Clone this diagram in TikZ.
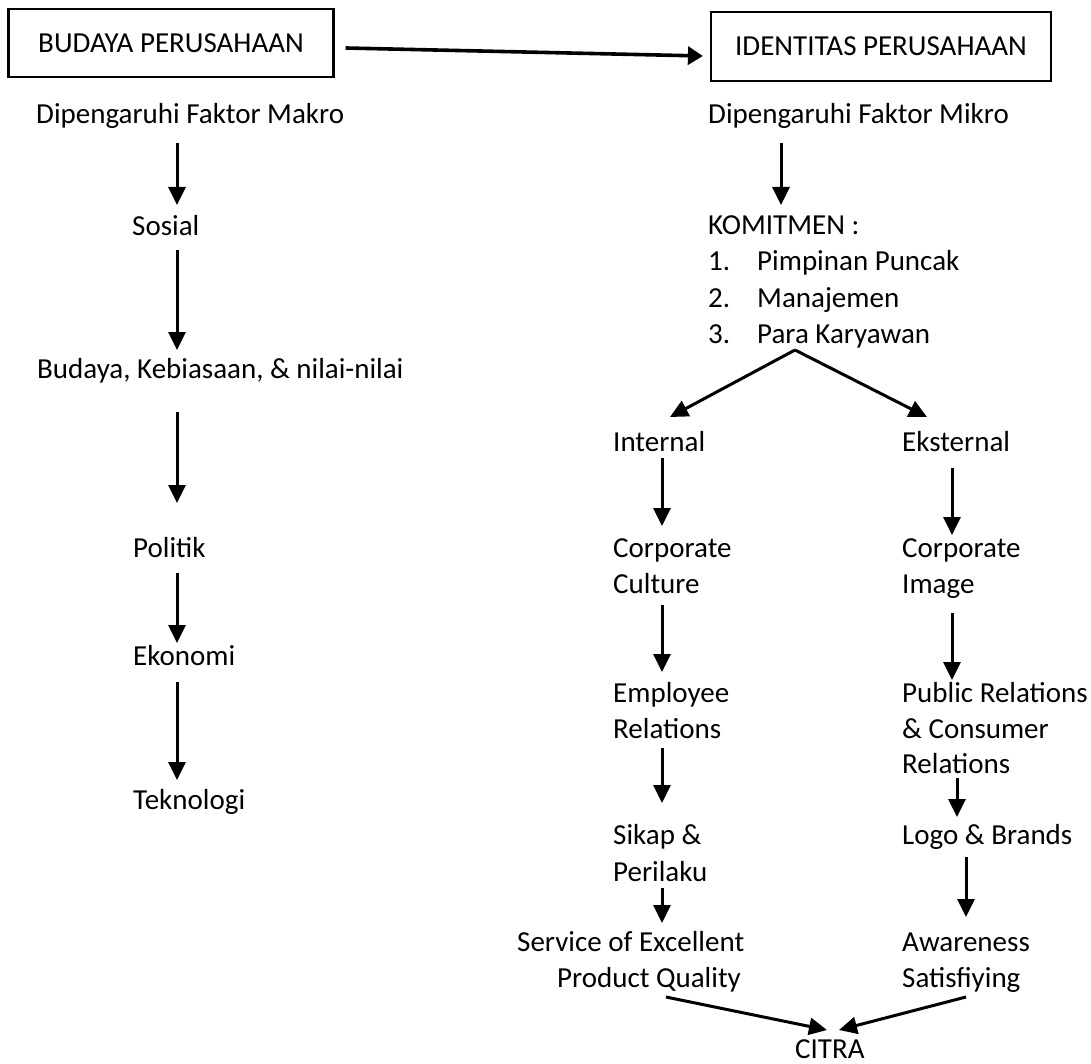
\documentclass[tikz,border=0pt]{standalone}
\usepackage{fontspec}
\setmainfont{Carlito}
\usetikzlibrary{arrows.meta,calc}
\begin{document}
\begin{tikzpicture}[x=1pt,y=-1pt,
  txt/.style={anchor=base west,inner sep=0pt,font=\fontsize{29}{36}\selectfont},
  arr/.style={line width=3pt,-{Triangle[width=17pt,length=18pt]}},
  boxnode/.style={draw,line width=2.2pt,inner sep=0pt,font=\fontsize{29}{36}\selectfont}]
\useasboundingbox (0,0) rectangle (1091,1064);
\fill[white] (0,0) rectangle (1091,1064);

% column reference coordinates
\coordinate (cL) at (177,0);
\coordinate (cR) at (781,0);
\coordinate (cI) at (662,0);
\coordinate (cE) at (952,0);
\coordinate (cEb) at (957,0);
\coordinate (cEc) at (966,0);

% boxes
\node[boxnode,minimum width=325pt,minimum height=68pt] (b1) at (171,43) {BUDAYA PERUSAHAAN};
\node[boxnode,minimum width=340pt,minimum height=69pt] (b2) at (881,46.5) {IDENTITAS PERUSAHAAN};

% left column
\node[txt] (dmakro) at (36,124) {Dipengaruhi Faktor Makro};
\node[txt] (sosial) at (132,236) {Sosial};
\node[txt] (budaya) at (37,378) {Budaya, Kebiasaan, \& nilai-nilai};
\node[txt] (politik) at (133,557) {Politik};
\node[txt] (ekonomi) at (133,665) {Ekonomi};
\node[txt] (teknologi) at (133,809) {Teknologi};

% right column
\node[txt] (dmikro) at (708,124) {Dipengaruhi Faktor Mikro};
\node[txt] (komit) at (708,235) {KOMITMEN :};
\node[txt] (n1) at (708,271) {1.};
\node[txt] (pimp) at (757,271) {Pimpinan Puncak};
\node[txt] (n2) at (708,307) {2.};
\node[txt] (mana) at (757,307) {Manajemen};
\node[txt] (n3) at (708,343) {3.};
\node[txt] (kary) at (757,343) {Para Karyawan};
\node[txt] (internal) at (613,451) {Internal};
\node[txt] (eksternal) at (902,451) {Eksternal};
\node[txt] (corpL) at (613,557) {Corporate};
\node[txt] (culture) at (613,593) {Culture};
\node[txt] (corpR) at (902,557) {Corporate};
\node[txt] (image) at (902,593) {Image};
\node[txt] (employee) at (613,702) {Employee};
\node[txt] (relL) at (613,738) {Relations};
\node[txt] (public) at (902,702) {Public Relations};
\node[txt] (consumer) at (902,738) {\& Consumer};
\node[txt] (relR) at (902,773) {Relations};
\node[txt] (sikap) at (613,844) {Sikap \&};
\node[txt] (perilaku) at (613,881) {Perilaku};
\node[txt] (logo) at (902,844) {Logo \& Brands};
\node[txt] (service) at (517,951) {Service of Excellent};
\node[txt] (quality) at (557,987) {Product Quality};
\node[txt] (aware) at (902,951) {Awareness};
\node[txt] (satis) at (902,987) {Satisfiying};
\node[txt] (citra) at (795,1058) {CITRA};

% top arrow
\draw[line width=3.6pt,-{Triangle[width=18pt,length=15pt]}] ($(b1.east)+(11,5)$) -- ($(b2.west)+(-7,9.5)$);

% left column arrows
\draw[arr] ($(dmakro.base -| cL)+(0,19)$) -- ($(sosial.base -| cL)+(0,-31)$);
\draw[arr] ($(sosial.base -| cL)+(0,14)$) -- ($(budaya.base -| cL)+(0,-28)$);
\draw[arr] ($(budaya.base -| cL)+(0,34)$) -- ($(politik.base -| cL)+(0,-54)$);
\draw[arr] ($(politik.base -| cL)+(0,16)$) -- ($(ekonomi.base -| cL)+(0,-22)$);
\draw[arr] ($(ekonomi.base -| cL)+(0,17)$) -- ($(teknologi.base -| cL)+(0,-29)$);

% right column arrows
\draw[arr] ($(dmikro.base -| cR)+(0,19)$) -- ($(komit.base -| cR)+(0,-30)$);
\coordinate (apex) at ($(kary.base west)+(38,7)$);
\draw[arr] (apex) -- ($(internal.base west)+(57,-34)$);
\draw[arr] (apex) -- ($(eksternal.base west)+(25,-34)$);

\draw[arr] ($(internal.base -| cI)+(0,7)$) -- ($(corpL.base -| cI)+(0,-31)$);
\draw[arr] ($(culture.base -| cI)+(0,12)$) -- ($(employee.base -| cI)+(0,-30)$);
\draw[arr] ($(relL.base -| cI)+(0,10)$) -- ($(sikap.base -| cI)+(0,-41)$);
\draw[arr] ($(perilaku.base -| cI)+(0,7)$) -- ($(service.base -| cI)+(0,-28)$);

\draw[arr] ($(eksternal.base -| cE)+(0,17)$) -- ($(corpR.base -| cE)+(0,-22)$);
\draw[arr] ($(image.base -| cE)+(0,20)$) -- ($(public.base -| cE)+(0,-22)$);
\draw[arr] ($(relR.base -| cEb)+(0,5)$) -- ($(logo.base -| cEb)+(0,-27)$);
\draw[arr] ($(logo.base -| cEc)+(0,13)$) -- ($(aware.base -| cEc)+(0,-34)$);

\draw[arr] ($(quality.base west)+(109,10)$) -- ($(citra.base west)+(32,-28)$);
\draw[arr] ($(satis.base west)+(64,10)$) -- ($(citra.base west)+(44,-28)$);
\end{tikzpicture}
\end{document}
